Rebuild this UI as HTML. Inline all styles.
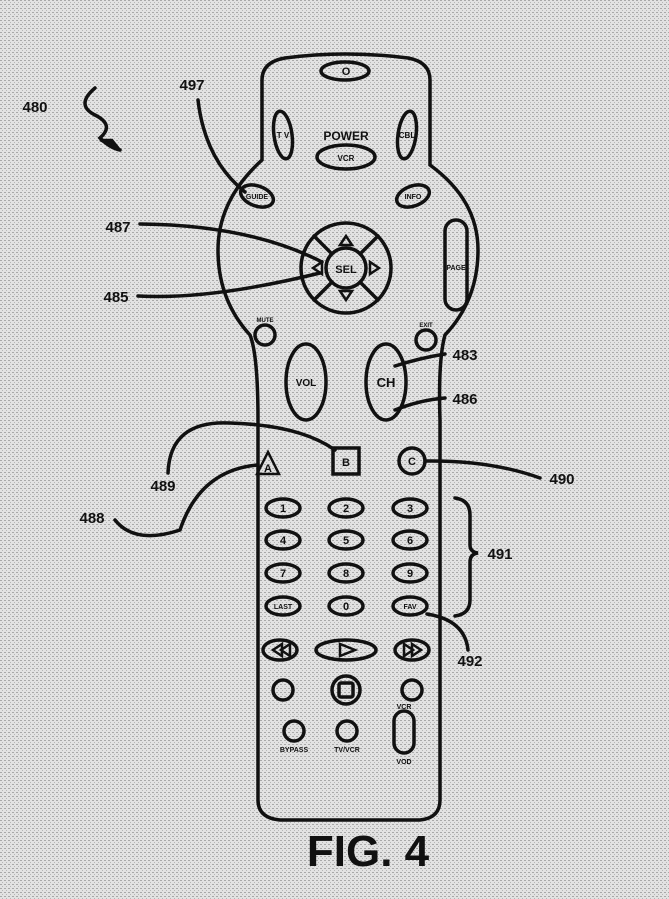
<!DOCTYPE html>
<html><head><meta charset="utf-8"><style>
html,body{margin:0;padding:0;background:#d8d8d8}
svg{display:block}
text{font-family:"Liberation Sans",sans-serif;font-weight:bold;fill:#111}
</style></head><body>
<svg width="669" height="899" viewBox="0 0 669 899" xmlns="http://www.w3.org/2000/svg">
<defs>
<pattern id="p" width="4" height="4" patternUnits="userSpaceOnUse">
<rect width="4" height="4" fill="#e2e2e2"/><rect x="0" y="0" width="2" height="1" fill="#a8a8a8"/><rect x="2" y="2" width="1" height="1" fill="#b5b5b5"/>
</pattern>
</defs>
<rect width="669" height="899" fill="url(#p)"/>
<g fill="none" stroke="#111" stroke-width="3.5" stroke-linecap="round">
<path d="M262,160 L262,80 Q262,62 285,58 Q345,50 408,58 Q430,62 430,80 L430,165 Q478,200 478,250 Q478,300 445,335 Q438,360 440,420 L440,800 Q440,818 420,820 L280,820 Q258,818 258,800 L258,420 Q258,355 250,335 Q218,300 218,250 Q218,200 262,160 Z"/>
<ellipse cx="345" cy="71" rx="24" ry="9"/>
<ellipse cx="283" cy="135" rx="9" ry="24" transform="rotate(-8 283 135)"/>
<ellipse cx="407" cy="135" rx="9" ry="24" transform="rotate(8 407 135)"/>
<ellipse cx="346" cy="157" rx="29" ry="12"/>
<ellipse cx="257" cy="196" rx="17" ry="10" transform="rotate(20 257 196)"/>
<ellipse cx="413" cy="196" rx="17" ry="10" transform="rotate(-20 413 196)"/>
<circle cx="346" cy="268" r="45"/>
<circle cx="346" cy="268" r="20"/>
<line x1="314" y1="236" x2="332" y2="254"/><line x1="378" y1="236" x2="360" y2="254"/>
<line x1="314" y1="300" x2="332" y2="282"/><line x1="378" y1="300" x2="360" y2="282"/>
<rect x="445" y="220" width="22" height="90" rx="11"/>
<circle cx="265" cy="335" r="10"/>
<circle cx="426" cy="340" r="10"/>
<ellipse cx="306" cy="382" rx="20" ry="38"/>
<ellipse cx="386" cy="382" rx="20" ry="38"/>
<rect x="333" y="448" width="26" height="26"/>
<circle cx="412" cy="461" r="13"/>
<ellipse cx="283" cy="508" rx="17" ry="9"/><ellipse cx="346" cy="508" rx="17" ry="9"/><ellipse cx="410" cy="508" rx="17" ry="9"/>
<ellipse cx="283" cy="540" rx="17" ry="9"/><ellipse cx="346" cy="540" rx="17" ry="9"/><ellipse cx="410" cy="540" rx="17" ry="9"/>
<ellipse cx="283" cy="573" rx="17" ry="9"/><ellipse cx="346" cy="573" rx="17" ry="9"/><ellipse cx="410" cy="573" rx="17" ry="9"/>
<ellipse cx="283" cy="606" rx="17" ry="9"/><ellipse cx="346" cy="606" rx="17" ry="9"/><ellipse cx="410" cy="606" rx="17" ry="9"/>
<ellipse cx="280" cy="650" rx="17" ry="10"/><ellipse cx="346" cy="650" rx="30" ry="10"/><ellipse cx="412" cy="650" rx="17" ry="10"/>
<circle cx="283" cy="690" r="10"/><circle cx="346" cy="690" r="14"/><rect x="339" y="683" width="14" height="14" rx="2"/><circle cx="412" cy="690" r="10"/>
<circle cx="294" cy="731" r="10"/><circle cx="347" cy="731" r="10"/>
<rect x="394" y="711" width="20" height="42" rx="10"/>
<path d="M95,88 Q75,105 95,115 Q115,125 100,138 Q110,148 120,150"/>
<path d="M198,100 Q205,160 245,192"/>
<path d="M140,224 Q250,225 322,262"/>
<path d="M138,296 Q210,300 320,273"/>
<path d="M445,354 Q420,358 395,366"/>
<path d="M445,398 Q420,400 395,410"/>
<path d="M168,473 Q170,420 230,423 Q300,425 335,450"/>
<path d="M115,520 Q135,545 180,530 Q200,470 258,465"/>
<path d="M425,461 Q490,460 540,478"/>
<path d="M455,498 Q470,500 470,515 L470,545 Q470,552 478,553 Q470,554 470,562 L470,600 Q470,614 455,616"/>
<path d="M427,614 Q465,620 468,650"/>
</g>
<g fill="none" stroke="#111" stroke-width="2.5">
<polygon points="346,236 340,245 352,245"/>
<polygon points="346,300 340,291 352,291"/>
<polygon points="313,268 322,262 322,274"/>
<polygon points="379,268 370,262 370,274"/>
<polygon points="268,452 257,474 279,474"/>
<polygon points="340,644 340,656 355,650"/>
<polygon points="282,644 282,656 273,650"/><polygon points="290,644 290,656 281,650"/>
<polygon points="404,644 404,656 413,650"/><polygon points="412,644 412,656 421,650"/>
<polygon points="100,140 120,150 112,140" fill="#111"/>
</g>
<g font-size="11" text-anchor="middle">
<text x="346" y="75">O</text>
<text x="346" y="140" font-size="12">POWER</text>
<text x="346" y="161" font-size="8">VCR</text>
<text x="283" y="138" font-size="8">T V</text>
<text x="407" y="138" font-size="8">CBL</text>
<text x="257" y="199" font-size="7">GUIDE</text>
<text x="413" y="199" font-size="7">INFO</text>
<text x="346" y="273" font-size="11">SEL</text>
<text x="456" y="270" font-size="7">PAGE</text>
<text x="265" y="322" font-size="6">MUTE</text>
<text x="426" y="327" font-size="6">EXIT</text>
<text x="306" y="386" font-size="10">VOL</text>
<text x="386" y="387" font-size="13">CH</text>
<text x="268" y="472">A</text>
<text x="346" y="466">B</text>
<text x="412" y="465">C</text>
<text x="283" y="512">1</text><text x="346" y="512">2</text><text x="410" y="512">3</text>
<text x="283" y="544">4</text><text x="346" y="544">5</text><text x="410" y="544">6</text>
<text x="283" y="577">7</text><text x="346" y="577">8</text><text x="410" y="577">9</text>
<text x="283" y="609" font-size="7">LAST</text><text x="346" y="610">0</text><text x="410" y="609" font-size="7">FAV</text>
<text x="294" y="752" font-size="7">BYPASS</text>
<text x="347" y="752" font-size="7">TV/VCR</text>
<text x="404" y="709" font-size="7">VCR</text>
<text x="404" y="764" font-size="7">VOD</text>
</g>
<g font-size="15" text-anchor="middle">
<text x="35" y="112">480</text>
<text x="192" y="90">497</text>
<text x="118" y="232">487</text>
<text x="116" y="302">485</text>
<text x="465" y="360">483</text>
<text x="465" y="404">486</text>
<text x="163" y="491">489</text>
<text x="92" y="523">488</text>
<text x="562" y="484">490</text>
<text x="500" y="559">491</text>
<text x="470" y="666">492</text>
</g>
<text x="368" y="866" font-size="44" text-anchor="middle">FIG. 4</text>
</svg>
</body></html>
